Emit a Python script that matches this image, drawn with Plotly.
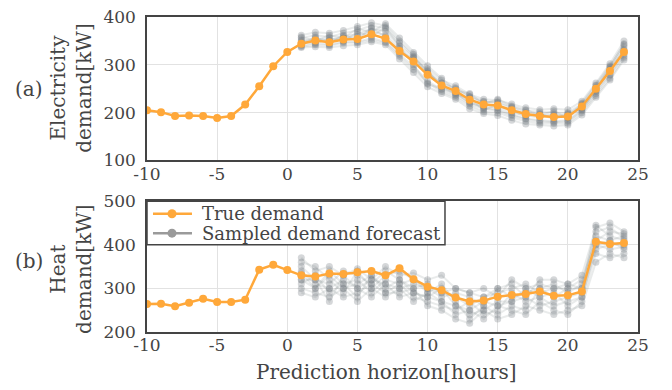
import plotly.graph_objects as go

# ---------------- data ----------------
hours_true = list(range(-10, 25))
hours_fc = list(range(1, 25))

elec_true = [205, 201, 193, 194, 193, 189, 193, 217, 255, 297, 327,
             344, 351, 347, 353, 354, 364, 355, 329, 307, 279, 257, 245,
             227, 217, 215, 205, 197, 193, 191, 192, 213, 250, 287, 327]

heat_true = [264, 265, 259, 267, 276, 269, 269, 274, 343, 354, 342,
             330, 327, 334, 333, 337, 340, 330, 346, 321, 304, 296, 279,
             270, 272, 281, 285, 287, 293, 283, 284, 293, 407, 402, 404]

elec_s1 = [362, 368, 366, 372, 380, 388, 382, 350, 322, 292, 268, 256, 238, 228, 226, 218, 210, 206, 208, 206, 224, 262, 302, 350]
elec_s2 = [336, 338, 336, 340, 342, 348, 342, 312, 284, 254, 240, 228, 208, 198, 194, 184, 176, 174, 172, 174, 195, 232, 268, 310]
elec_s3 = [350, 356, 352, 360, 364, 376, 370, 340, 316, 286, 262, 250, 232, 222, 222, 212, 204, 202, 200, 200, 218, 256, 294, 338]
elec_s4 = [340, 346, 342, 348, 348, 356, 348, 322, 296, 266, 248, 236, 218, 208, 204, 194, 186, 182, 180, 182, 204, 240, 278, 318]
elec_s5 = [356, 362, 358, 366, 372, 382, 376, 346, 318, 284, 256, 240, 222, 210, 206, 196, 188, 184, 182, 184, 206, 246, 288, 332]
elec_s6 = [346, 352, 350, 356, 360, 370, 362, 334, 310, 282, 262, 252, 234, 224, 220, 210, 200, 196, 194, 196, 216, 252, 290, 330]
elec_s7 = [352, 344, 356, 350, 368, 360, 378, 338, 300, 260, 250, 242, 220, 214, 210, 200, 194, 190, 196, 190, 210, 244, 280, 322]
elec_s8 = [342, 358, 344, 362, 352, 378, 358, 326, 314, 288, 254, 238, 230, 206, 216, 204, 192, 198, 186, 198, 208, 248, 296, 344]
elec_s9 = [358, 350, 362, 356, 376, 368, 386, 356, 326, 298, 272, 246, 240, 218, 228, 214, 206, 194, 204, 188, 220, 258, 298, 342]
elec_s10 = [338, 342, 340, 346, 346, 352, 346, 318, 290, 262, 244, 232, 214, 202, 200, 190, 182, 178, 178, 178, 200, 236, 272, 314]

heat_s1 = [370, 340, 350, 330, 345, 320, 350, 330, 335, 320, 330, 300, 290, 300, 280, 320, 300, 310, 300, 310, 330, 440, 450, 430]
heat_s2 = [300, 290, 280, 300, 270, 300, 280, 300, 270, 290, 270, 240, 250, 230, 260, 250, 240, 270, 250, 240, 270, 380, 370, 380]
heat_s3 = [350, 320, 310, 340, 330, 310, 340, 320, 300, 310, 290, 280, 260, 280, 290, 300, 310, 290, 300, 300, 300, 420, 410, 420]
heat_s4 = [320, 300, 330, 300, 310, 330, 300, 320, 290, 280, 300, 260, 240, 250, 270, 270, 280, 260, 270, 280, 290, 400, 390, 395]
heat_s5 = [340, 310, 300, 320, 300, 320, 310, 300, 310, 300, 280, 290, 280, 260, 300, 280, 290, 300, 310, 290, 310, 430, 440, 415]
heat_s6 = [310, 330, 290, 310, 320, 290, 320, 310, 280, 270, 260, 250, 270, 240, 250, 290, 270, 280, 260, 270, 280, 390, 400, 400]
heat_s7 = [360, 350, 320, 290, 340, 300, 330, 340, 320, 290, 310, 270, 230, 260, 240, 260, 250, 300, 280, 300, 320, 410, 430, 425]
heat_s8 = [290, 280, 300, 280, 290, 310, 290, 290, 300, 260, 250, 230, 220, 250, 230, 240, 260, 250, 240, 250, 260, 360, 380, 370]
heat_s9 = [335, 300, 340, 310, 280, 330, 290, 310, 320, 300, 290, 300, 290, 280, 300, 310, 280, 320, 320, 310, 300, 445, 420, 410]
heat_s10 = [320, 320, 270, 330, 300, 280, 310, 280, 290, 280, 270, 260, 250, 270, 260, 270, 300, 280, 290, 260, 280, 400, 410, 390]

elec_samples = [elec_s1, elec_s2, elec_s3, elec_s4, elec_s5, elec_s6, elec_s7, elec_s8, elec_s9, elec_s10]
heat_samples = [heat_s1, heat_s2, heat_s3, heat_s4, heat_s5, heat_s6, heat_s7, heat_s8, heat_s9, heat_s10]

x_ticks = [-10, -5, 0, 5, 10, 15, 20, 25]
x_tick_text = ["-10", "-5", "0", "5", "10", "15", "20", "25"]
elec_ticks = [100, 200, 300, 400]
heat_ticks = [200, 300, 400, 500]
legend_labels = ["True demand", "Sampled demand forecast"]

# ---------------- style ----------------
ORANGE = "#ffa83a"
LEG_GRAY = "#9a9a9a"
GRAY_LINE = "rgba(120,128,133,0.16)"
GRAY_MARK = "rgba(115,123,128,0.30)"
FONT = "DejaVu Serif"
TXT = "#444444"

fig = go.Figure()

for s in elec_samples:
    fig.add_trace(go.Scatter(x=hours_fc, y=s, mode="lines+markers",
                             line=dict(color=GRAY_LINE, width=2),
                             marker=dict(color=GRAY_MARK, size=7),
                             showlegend=False, xaxis="x", yaxis="y", hoverinfo="skip"))
for s in heat_samples:
    fig.add_trace(go.Scatter(x=hours_fc, y=s, mode="lines+markers",
                             line=dict(color=GRAY_LINE, width=2),
                             marker=dict(color=GRAY_MARK, size=7),
                             showlegend=False, xaxis="x2", yaxis="y2", hoverinfo="skip"))

fig.add_trace(go.Scatter(x=hours_true, y=elec_true, mode="lines+markers",
                         name=legend_labels[0],
                         line=dict(color=ORANGE, width=2.5),
                         marker=dict(color=ORANGE, size=8),
                         showlegend=False, xaxis="x", yaxis="y"))
fig.add_trace(go.Scatter(x=hours_true, y=heat_true, mode="lines+markers",
                         name=legend_labels[0],
                         line=dict(color=ORANGE, width=2.5),
                         marker=dict(color=ORANGE, size=8),
                         showlegend=False, xaxis="x2", yaxis="y2"))

axis_common = dict(showgrid=True, gridcolor="#e2e2e2", gridwidth=1,
                   showline=True, linecolor="#444444", linewidth=1.5, mirror=True,
                   ticks="", zeroline=False,
                   tickfont=dict(family=FONT, size=17, color=TXT))

fig.update_layout(
    width=672, height=390,
    margin=dict(l=147, r=34, t=7, b=58),
    paper_bgcolor="white", plot_bgcolor="white",
    font=dict(family=FONT, color=TXT),
    showlegend=False,
    xaxis=dict(domain=[0, 1], anchor="y", range=[-10, 25], tickvals=x_ticks,
               ticktext=x_tick_text, ticklabelstandoff=-3, **axis_common),
    yaxis=dict(domain=[0.5446, 1], anchor="x", range=[100, 400], tickvals=elec_ticks,
               ticklabelstandoff=6, **axis_common),
    xaxis2=dict(domain=[0, 1], anchor="y2", range=[-10, 25], tickvals=x_ticks,
                ticktext=x_tick_text, ticklabelstandoff=-3, **axis_common),
    yaxis2=dict(domain=[0, 0.4154], anchor="x2", range=[200, 500], tickvals=heat_ticks,
                ticklabelstandoff=6, **axis_common),
)

# ---- legend box (drawn in the lower panel, top-left) ----
fig.add_shape(type="rect", xref="paper", yref="paper",
              x0=0, x1=0.6069, y0=0.2769, y1=0.4154,
              fillcolor="white", line=dict(color="#444444", width=1.5), layer="above")
leg_rows = [(0.3754, ORANGE), (0.3138, LEG_GRAY)]
for (yy, col), lab in zip(leg_rows, legend_labels):
    fig.add_shape(type="line", xref="paper", yref="paper",
                  x0=0.0122, x1=0.0916, y0=yy, y1=yy,
                  line=dict(color=col, width=2.5), layer="above")
    fig.add_shape(type="circle", xref="paper", yref="paper",
                  xsizemode="pixel", ysizemode="pixel",
                  xanchor=0.0509, yanchor=yy, x0=-4.5, x1=4.5, y0=-4.5, y1=4.5,
                  fillcolor=col, line=dict(color=col, width=0), layer="above")
    fig.add_annotation(text=lab, xref="paper", yref="paper", x=0.108, y=yy,
                       xanchor="left", yanchor="middle", showarrow=False,
                       font=dict(family=FONT, size=18, color=TXT))

ann_font = dict(family=FONT, size=20, color=TXT)
fig.add_annotation(text="Electricity<br>demand[kW]", xref="paper", yref="paper",
                   x=-0.155, y=0.775, textangle=-90, showarrow=False,
                   xanchor="center", yanchor="middle", font=ann_font)
fig.add_annotation(text="Heat<br>demand[kW]", xref="paper", yref="paper",
                   x=-0.155, y=0.2, textangle=-90, showarrow=False,
                   xanchor="center", yanchor="middle", font=ann_font)
fig.add_annotation(text="(a)", xref="paper", yref="paper",
                   x=-0.240, y=0.77, showarrow=False,
                   xanchor="center", yanchor="middle", font=ann_font)
fig.add_annotation(text="(b)", xref="paper", yref="paper",
                   x=-0.240, y=0.225, showarrow=False,
                   xanchor="center", yanchor="middle", font=ann_font)
fig.add_annotation(text="Prediction horizon[hours]", xref="paper", yref="paper",
                   x=0.488, y=-0.126, showarrow=False,
                   xanchor="center", yanchor="middle", font=ann_font)

fig.write_html("out.html")
